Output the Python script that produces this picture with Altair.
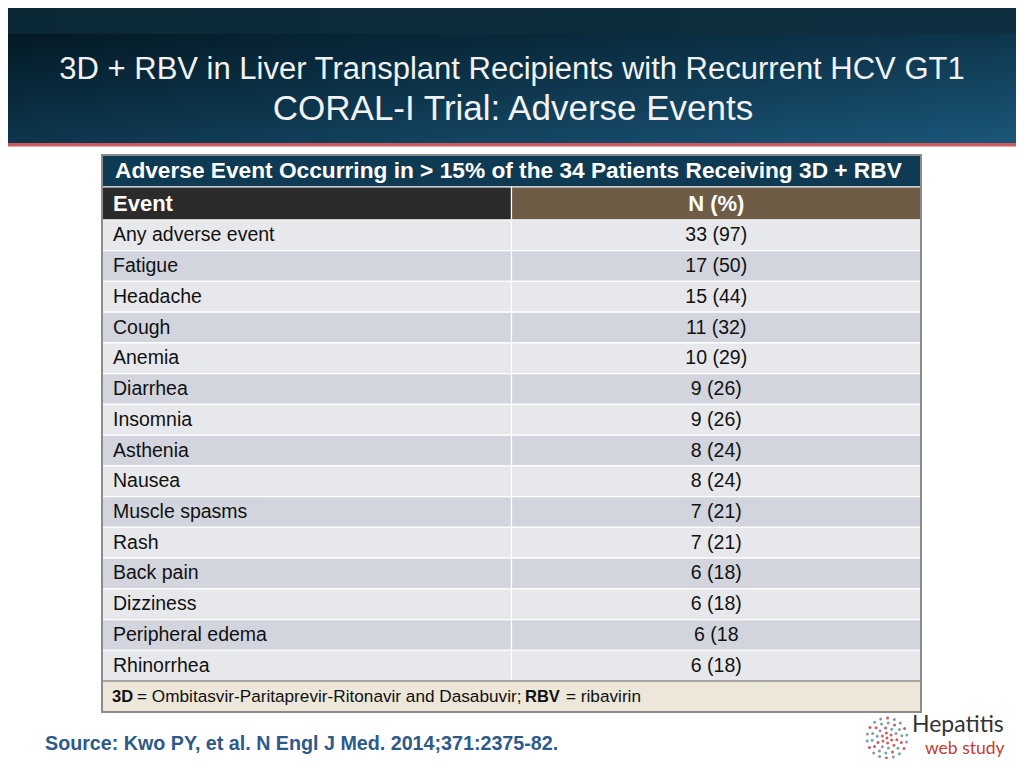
import altair as alt
import pandas as pd
import numpy as np

# ---------------- data ----------------
title_line1 = "3D + RBV in Liver Transplant Recipients with Recurrent HCV GT1"
title_line2 = "CORAL-I Trial: Adverse Events"
table_title = "Adverse Event Occurring in > 15% of the 34 Patients Receiving 3D + RBV"
col_headers = ["Event", "N (%)"]
events = ["Any adverse event", "Fatigue", "Headache", "Cough", "Anemia", "Diarrhea",
          "Insomnia", "Asthenia", "Nausea", "Muscle spasms", "Rash", "Back pain",
          "Dizziness", "Peripheral edema", "Rhinorrhea"]
n_labels = ["33 (97)", "17 (50)", "15 (44)", "11 (32)", "10 (29)", "9 (26)", "9 (26)",
            "8 (24)", "8 (24)", "7 (21)", "7 (21)", "6 (18)", "6 (18)", "6 (18", "6 (18)"]
foot_parts = ["3D", "= Ombitasvir-Paritaprevir-Ritonavir and Dasabuvir;", "RBV", "= ribavirin"]
source_text = "Source: Kwo PY, et al. N Engl J Med. 2014;371:2375-82."
logo_words = ["Hepatitis", "web study"]
logo_ring_counts = [1, 6, 10, 14, 18]

# ---------------- layout / style ----------------
OFF = 8
W, H = 1008, 751
FONT = "Liberation Sans"

def px(v):
    return v - OFF

LIGHT, DARK = "#e7e8eb", "#d2d5de"

yscale = alt.Scale(domain=[-2, -1, 0, 15, 16],
                   range=[px(155), px(187), px(220), px(681), px(712)],
                   zero=False, nice=False)
xscale = alt.Scale(domain=[0, 1, 2], range=[px(102), px(511.5), px(921)],
                   zero=False, nice=False)

rows = pd.DataFrame({"event": events, "n": n_labels, "r": list(range(len(events)))})
rows["r2"] = rows["r"] + 1
rows["rc"] = rows["r"] + 0.5
rows["fill"] = [LIGHT if i % 2 == 0 else DARK for i in rows["r"]]

cells = pd.concat([
    rows.assign(c=0, c2=1),
    rows.assign(c=1, c2=2),
])

frame = pd.DataFrame({
    "c": [0, 0, 1, 0],
    "c2": [2, 1, 2, 2],
    "r": [-2, -1, -1, 15],
    "r2": [-1, 0, 0, 16],
    "fill": ["#0f3a53", "#2b2b2b", "#6e5c47", "#ece7d8"],
})

def X(field):
    return alt.X(field, scale=xscale, axis=None)

def Y(field):
    return alt.Y(field, scale=yscale, axis=None)

# ---------- background banner ----------
bg = alt.Chart(pd.DataFrame({"k": [0]}))
top_strip = bg.mark_rect(color=alt.LinearGradient(
    gradient="linear", x1=0, y1=0, x2=1, y2=0,
    stops=[alt.GradientStop(color="#0b2836", offset=0),
           alt.GradientStop(color="#0f2f40", offset=1)])).encode(
    x=alt.value(0), x2=alt.value(W), y=alt.value(0), y2=alt.value(px(34)))
band = bg.mark_rect(color=alt.LinearGradient(
    gradient="linear", x1=0, y1=0, x2=1, y2=1,
    stops=[alt.GradientStop(color="#041a25", offset=0),
           alt.GradientStop(color="#0c3349", offset=0.45),
           alt.GradientStop(color="#1b5679", offset=1)])).encode(
    x=alt.value(0), x2=alt.value(W), y=alt.value(px(34)), y2=alt.value(px(143)))
red_line = bg.mark_rect(color="#cf5a5e").encode(
    x=alt.value(0), x2=alt.value(W), y=alt.value(px(143)), y2=alt.value(px(146.5)))

t1 = alt.Chart(pd.DataFrame({"t": [title_line1]})).mark_text(
    font=FONT, fontSize=31, color="#f2f2f2", align="center", baseline="middle").encode(
    text="t:N", x=alt.value(px(512)), y=alt.value(px(70)))
t2 = alt.Chart(pd.DataFrame({"t": [title_line2]})).mark_text(
    font=FONT, fontSize=35, color="#f2f2f2", align="center", baseline="middle").encode(
    text="t:N", x=alt.value(px(513)), y=alt.value(px(109)))

# ---------- table ----------
cell_rects = alt.Chart(cells).mark_rect(stroke="white", strokeWidth=1.2).encode(
    x=X("c:Q"), x2="c2:Q", y=Y("r:Q"), y2="r2:Q",
    color=alt.Color("fill:N", scale=None))
frame_rects = alt.Chart(frame).mark_rect(stroke="white", strokeWidth=1.2).encode(
    x=X("c:Q"), x2="c2:Q", y=Y("r:Q"), y2="r2:Q",
    color=alt.Color("fill:N", scale=None))
foot_line = alt.Chart(pd.DataFrame({"c": [0], "c2": [2], "r": [15]})).mark_rule(
    color="#8a8a8a", strokeWidth=1.5).encode(x=X("c:Q"), x2="c2:Q", y=Y("r:Q"))
border = alt.Chart(pd.DataFrame({"c": [0], "c2": [2], "r": [-2], "r2": [16]})).mark_rect(
    fill=None, stroke="#8c8c8c", strokeWidth=2).encode(
    x=X("c:Q"), x2="c2:Q", y=Y("r:Q"), y2="r2:Q")

ev_text = alt.Chart(rows).mark_text(
    font=FONT, fontSize=19.5, color="#111111", align="left", baseline="middle", dx=11).encode(
    x=X("c0:Q"), y=Y("rc:Q"), text="event:N").transform_calculate(c0="0")
n_text = alt.Chart(rows).mark_text(
    font=FONT, fontSize=19.5, color="#111111", align="center", baseline="middle").encode(
    x=X("cm:Q"), y=Y("rc:Q"), text="n:N").transform_calculate(cm="1.5")

hdr = pd.DataFrame({"t": col_headers, "c": [0, 1.5], "rc": [-0.5, -0.5]})
hdr_event = alt.Chart(hdr.iloc[[0]]).mark_text(
    font=FONT, fontSize=22, fontWeight="bold", color="white", align="left",
    baseline="middle", dx=11).encode(x=X("c:Q"), y=Y("rc:Q"), text="t:N")
hdr_n = alt.Chart(hdr.iloc[[1]]).mark_text(
    font=FONT, fontSize=22, fontWeight="bold", color="white", align="center",
    baseline="middle").encode(x=X("c:Q"), y=Y("rc:Q"), text="t:N")
ttl = alt.Chart(pd.DataFrame({"t": [table_title], "c": [0], "rc": [-1.5]})).mark_text(
    font=FONT, fontSize=22.7, fontWeight="bold", color="white", align="left",
    baseline="middle", dx=13).encode(x=X("c:Q"), y=Y("rc:Q"), text="t:N")

foot_x = [112, 137, 525, 566]
foot_sizes = [16.5, 17.2, 16.5, 17.2]
foot_layers = []
for part, xx, wt, fs in zip(foot_parts, foot_x, ["bold", "normal", "bold", "normal"], foot_sizes):
    foot_layers.append(
        alt.Chart(pd.DataFrame({"t": [part]})).mark_text(
            font=FONT, fontSize=fs, fontWeight=wt, color="#111111", align="left",
            baseline="middle").encode(text="t:N", x=alt.value(px(xx)), y=alt.value(px(697))))

src = alt.Chart(pd.DataFrame({"t": [source_text]})).mark_text(
    font=FONT, fontSize=19.7, fontWeight="bold", color="#2d5a88", align="left",
    baseline="middle").encode(text="t:N", x=alt.value(px(45)), y=alt.value(px(744)))

# ---------- logo ----------
ring_rows = []
for ring, cnt in enumerate(logo_ring_counts):
    for k in range(cnt):
        ring_rows.append({"ring": ring, "k": k, "cnt": cnt})
logo_df = pd.DataFrame(ring_rows)
lx_scale = alt.Scale(domain=[-1, 1], range=[px(887 - 20), px(887 + 20)], zero=False, nice=False)
ly_scale = alt.Scale(domain=[-1, 1], range=[px(738 - 20), px(738 + 20)], zero=False, nice=False)
dots = alt.Chart(logo_df).transform_calculate(
    ang="2*PI*datum.k/datum.cnt + datum.ring*0.4",
    lx="datum.ring/4*cos(datum.ang)",
    ly="datum.ring/4*sin(datum.ang)",
    col="datum.ring <= 1 ? '#c0504d' : (datum.k % 3 == 0 ? '#c0504d' : (datum.k % 3 == 1 ? '#5f9ea8' : '#8a8a9c'))",
).mark_circle(opacity=0.9).encode(
    x=alt.X("lx:Q", scale=lx_scale, axis=None),
    y=alt.Y("ly:Q", scale=ly_scale, axis=None),
    color=alt.Color("col:N", scale=None),
    size=alt.value(9))
hep = alt.Chart(pd.DataFrame({"t": [logo_words[0]]})).mark_text(
    font="Lato", fontSize=23, color="#333333", align="left", baseline="alphabetic").encode(
    text="t:N", x=alt.value(px(912)), y=alt.value(px(732)))
web = alt.Chart(pd.DataFrame({"t": [logo_words[1]]})).mark_text(
    font="Lato", fontSize=17.5, color="#c23b32", align="left", baseline="alphabetic").encode(
    text="t:N", x=alt.value(px(925)), y=alt.value(px(754)))

chart = alt.layer(
    top_strip, band, red_line, t1, t2,
    frame_rects, cell_rects, foot_line, border,
    ev_text, n_text, hdr_event, hdr_n, ttl, *foot_layers, src,
    dots, hep, web,
).resolve_scale(x="independent", y="independent").properties(
    width=W, height=H, padding=0, autosize=alt.AutoSizeParams(type="none"),
    background="white",
).configure_view(stroke=None)

chart.save("out.html", embed_options={"renderer": "svg", "actions": False})
